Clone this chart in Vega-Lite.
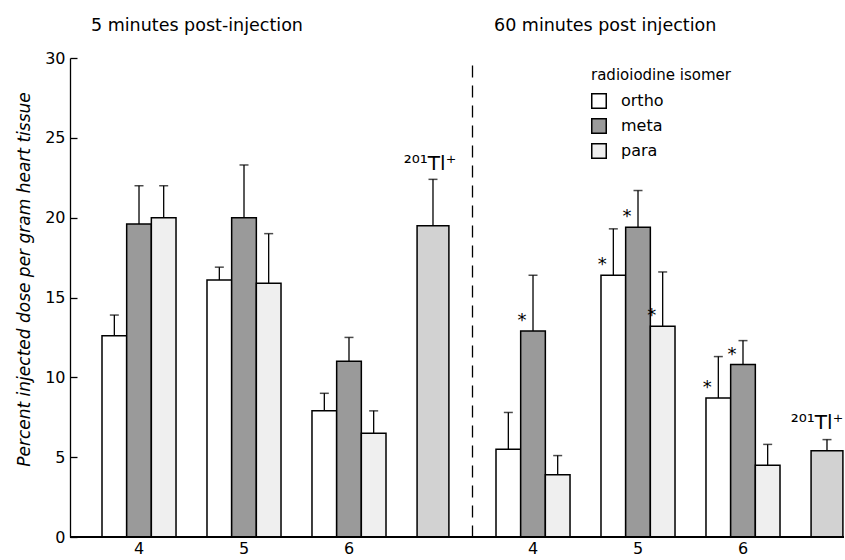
{
  "$schema": "https://vega.github.io/schema/vega-lite/v6.json",
  "autosize": {"type": "pad"},
  "padding": {"left": 14, "top": 16, "right": 0, "bottom": 0},
  "bounds": "flush",
  "spacing": 0,
  "background": "white",
  "config": {
    "view": {"stroke": null},
    "font": "DejaVu Sans",
    "axis": {"grid": false, "domainColor": "black", "tickColor": "black", "labelColor": "black", "titleColor": "black", "labelFont": "DejaVu Sans", "titleFont": "DejaVu Sans"},
    "title": {"font": "DejaVu Sans", "fontSize": 17.5, "fontWeight": "normal", "color": "black"},
    "legend": {"orient": "none", "legendX": 521, "legendY": 10, "symbolType": "square", "symbolSize": 210, "symbolStrokeColor": "black", "symbolStrokeWidth": 1.5, "labelFontSize": 16, "labelFont": "DejaVu Sans", "labelColor": "black", "labelOffset": 14, "titleFontSize": 15, "titleFontWeight": "normal", "titleFont": "DejaVu Sans", "titleColor": "black", "titlePadding": 10, "rowPadding": 3}
  },
  "datasets": {
    "doses": [
      {"time": "5", "group": "4", "isomer": "ortho", "mean": 12.6, "upper": 13.9, "sig": false},
      {"time": "5", "group": "4", "isomer": "meta", "mean": 19.6, "upper": 22.0, "sig": false},
      {"time": "5", "group": "4", "isomer": "para", "mean": 20.0, "upper": 22.0, "sig": false},
      {"time": "5", "group": "5", "isomer": "ortho", "mean": 16.1, "upper": 16.9, "sig": false},
      {"time": "5", "group": "5", "isomer": "meta", "mean": 20.0, "upper": 23.3, "sig": false},
      {"time": "5", "group": "5", "isomer": "para", "mean": 15.9, "upper": 19.0, "sig": false},
      {"time": "5", "group": "6", "isomer": "ortho", "mean": 7.9, "upper": 9.0, "sig": false},
      {"time": "5", "group": "6", "isomer": "meta", "mean": 11.0, "upper": 12.5, "sig": false},
      {"time": "5", "group": "6", "isomer": "para", "mean": 6.5, "upper": 7.9, "sig": false},
      {"time": "5", "group": "Tl", "isomer": "Tl", "mean": 19.5, "upper": 22.4, "sig": false},
      {"time": "60", "group": "4", "isomer": "ortho", "mean": 5.5, "upper": 7.8, "sig": false},
      {"time": "60", "group": "4", "isomer": "meta", "mean": 12.9, "upper": 16.4, "sig": true},
      {"time": "60", "group": "4", "isomer": "para", "mean": 3.9, "upper": 5.1, "sig": false},
      {"time": "60", "group": "5", "isomer": "ortho", "mean": 16.4, "upper": 19.3, "sig": true},
      {"time": "60", "group": "5", "isomer": "meta", "mean": 19.4, "upper": 21.7, "sig": true},
      {"time": "60", "group": "5", "isomer": "para", "mean": 13.2, "upper": 16.6, "sig": true},
      {"time": "60", "group": "6", "isomer": "ortho", "mean": 8.7, "upper": 11.3, "sig": true},
      {"time": "60", "group": "6", "isomer": "meta", "mean": 10.8, "upper": 12.3, "sig": true},
      {"time": "60", "group": "6", "isomer": "para", "mean": 4.5, "upper": 5.8, "sig": false},
      {"time": "60", "group": "Tl", "isomer": "Tl", "mean": 5.4, "upper": 6.1, "sig": false}
    ]
  },
  "hconcat": [
    {
      "width": 402,
      "height": 479,
      "data": {"name": "doses"},
      "transform": [{"filter": "datum.time == '5'"}],
      "title": {"text": "5 minutes post-injection", "anchor": "start", "frame": "group", "dx": 21, "offset": 16},
      "encoding": {
        "x": {"field": "group", "type": "nominal", "sort": null,
          "scale": {"domain": ["4", "5", "6", "Tl"], "range": [32, 421], "paddingInner": 0.295, "paddingOuter": 0},
          "axis": {"title": null, "domain": false, "ticks": false, "labelAngle": 0, "labelFontSize": 16, "labelPadding": 3, "labelExpr": "datum.value == 'Tl' ? '' : datum.value"}},
        "y": {"type": "quantitative",
          "scale": {"domain": [0, 30], "nice": false, "zero": true},
          "axis": {"values": [0, 5, 10, 15, 20, 25, 30], "tickSize": -7, "tickWidth": 1.3, "domainWidth": 1.3, "labelFontSize": 16, "labelPadding": 12,
            "title": "Percent injected dose per gram heart tissue", "titleFontStyle": "italic", "titleFontWeight": "normal", "titleFontSize": 17, "titleAngle": -90, "titleX": -46, "titleY": 221, "titleAlign": "center", "titleBaseline": "middle"}}
      },
      "layer": [
        {
          "transform": [{"filter": "datum.isomer != 'Tl'"}],
          "mark": {"type": "bar", "stroke": "black", "strokeWidth": 1.5},
          "encoding": {
            "xOffset": {"field": "isomer", "type": "nominal", "scale": {"domain": ["ortho", "meta", "para"], "paddingInner": 0, "paddingOuter": 0}},
            "y": {"field": "mean", "type": "quantitative"},
            "fill": {"field": "isomer", "type": "nominal", "scale": {"domain": ["ortho", "meta", "para"], "range": ["#ffffff", "#9a9a9a", "#efefef"]}, "title": "radioiodine isomer"}
          }
        },
        {
          "transform": [{"filter": "datum.isomer != 'Tl'"}],
          "mark": {"type": "rule", "color": "black", "strokeWidth": 1.3},
          "encoding": {
            "xOffset": {"field": "isomer", "type": "nominal"},
            "y": {"field": "mean", "type": "quantitative"},
            "y2": {"field": "upper"}
          }
        },
        {
          "transform": [{"filter": "datum.isomer != 'Tl'"}],
          "mark": {"type": "tick", "color": "black", "size": 9, "thickness": 1.5},
          "encoding": {
            "xOffset": {"field": "isomer", "type": "nominal"},
            "y": {"field": "upper", "type": "quantitative"}
          }
        },
        {
          "transform": [{"filter": "datum.isomer == 'Tl'"}],
          "mark": {"type": "bar", "stroke": "black", "strokeWidth": 1.5, "fill": "#d2d2d2", "width": {"band": 0.43}, "xOffset": -21},
          "encoding": {"y": {"field": "mean", "type": "quantitative"}}
        },
        {
          "transform": [{"filter": "datum.isomer == 'Tl'"}],
          "mark": {"type": "rule", "color": "black", "strokeWidth": 1.3, "xOffset": -21},
          "encoding": {"y": {"field": "mean", "type": "quantitative"}, "y2": {"field": "upper"}}
        },
        {
          "transform": [{"filter": "datum.isomer == 'Tl'"}],
          "mark": {"type": "tick", "color": "black", "size": 9, "thickness": 1.5, "xOffset": -21},
          "encoding": {"y": {"field": "upper", "type": "quantitative"}}
        },
        {
          "transform": [{"filter": "datum.isomer == 'Tl'"}],
          "mark": {"type": "text", "text": "²⁰¹Tl⁺", "fontSize": 20, "baseline": "alphabetic", "align": "center", "dy": -9, "xOffset": -24, "color": "black"},
          "encoding": {"y": {"field": "upper", "type": "quantitative"}}
        },
        {
          "mark": {"type": "rule", "color": "black", "strokeWidth": 1.5},
          "encoding": {"y": {"datum": 0}, "x": null}
        }
      ]
    },
    {
      "width": 372,
      "height": 479,
      "data": {"name": "doses"},
      "transform": [{"filter": "datum.time == '60'"}],
      "title": {"text": "60 minutes post injection", "anchor": "start", "frame": "group", "dx": 22, "offset": 24},
      "encoding": {
        "x": {"field": "group", "type": "nominal", "sort": null,
          "scale": {"domain": ["4", "5", "6", "Tl"], "range": [24, 413], "paddingInner": 0.295, "paddingOuter": 0},
          "axis": {"title": null, "domain": false, "ticks": false, "labelAngle": 0, "labelFontSize": 16, "labelPadding": 3, "labelExpr": "datum.value == 'Tl' ? '' : datum.value"}},
        "y": {"type": "quantitative",
          "scale": {"domain": [0, 30], "nice": false, "zero": true},
          "axis": {"title": null, "labels": false, "ticks": false, "domainDash": [12, 8], "domainWidth": 1.3}}
      },
      "layer": [
        {
          "transform": [{"filter": "datum.isomer != 'Tl'"}],
          "mark": {"type": "bar", "stroke": "black", "strokeWidth": 1.5},
          "encoding": {
            "xOffset": {"field": "isomer", "type": "nominal", "scale": {"domain": ["ortho", "meta", "para"], "paddingInner": 0, "paddingOuter": 0}},
            "y": {"field": "mean", "type": "quantitative"},
            "fill": {"field": "isomer", "type": "nominal", "scale": {"domain": ["ortho", "meta", "para"], "range": ["#ffffff", "#9a9a9a", "#efefef"]}, "title": "radioiodine isomer"}
          }
        },
        {
          "transform": [{"filter": "datum.isomer != 'Tl'"}],
          "mark": {"type": "rule", "color": "black", "strokeWidth": 1.3},
          "encoding": {
            "xOffset": {"field": "isomer", "type": "nominal"},
            "y": {"field": "mean", "type": "quantitative"},
            "y2": {"field": "upper"}
          }
        },
        {
          "transform": [{"filter": "datum.isomer != 'Tl'"}],
          "mark": {"type": "tick", "color": "black", "size": 9, "thickness": 1.5},
          "encoding": {
            "xOffset": {"field": "isomer", "type": "nominal"},
            "y": {"field": "upper", "type": "quantitative"}
          }
        },
        {
          "transform": [{"filter": "datum.sig"}],
          "mark": {"type": "text", "text": "*", "fontSize": 18, "baseline": "middle", "align": "center", "dx": -11, "dy": -10, "color": "black"},
          "encoding": {
            "xOffset": {"field": "isomer", "type": "nominal"},
            "y": {"field": "mean", "type": "quantitative"}
          }
        },
        {
          "transform": [{"filter": "datum.isomer == 'Tl'"}],
          "mark": {"type": "bar", "stroke": "black", "strokeWidth": 1.5, "fill": "#d2d2d2", "width": {"band": 0.43}, "xOffset": -21},
          "encoding": {"y": {"field": "mean", "type": "quantitative"}}
        },
        {
          "transform": [{"filter": "datum.isomer == 'Tl'"}],
          "mark": {"type": "rule", "color": "black", "strokeWidth": 1.3, "xOffset": -21},
          "encoding": {"y": {"field": "mean", "type": "quantitative"}, "y2": {"field": "upper"}}
        },
        {
          "transform": [{"filter": "datum.isomer == 'Tl'"}],
          "mark": {"type": "tick", "color": "black", "size": 9, "thickness": 1.5, "xOffset": -21},
          "encoding": {"y": {"field": "upper", "type": "quantitative"}}
        },
        {
          "transform": [{"filter": "datum.isomer == 'Tl'"}],
          "mark": {"type": "text", "text": "²⁰¹Tl⁺", "fontSize": 20, "baseline": "alphabetic", "align": "center", "dy": -11, "xOffset": -31, "color": "black"},
          "encoding": {"y": {"field": "upper", "type": "quantitative"}}
        },
        {
          "mark": {"type": "rule", "color": "black", "strokeWidth": 1.5},
          "encoding": {"y": {"datum": 0}, "x": null}
        }
      ]
    }
  ]
}
